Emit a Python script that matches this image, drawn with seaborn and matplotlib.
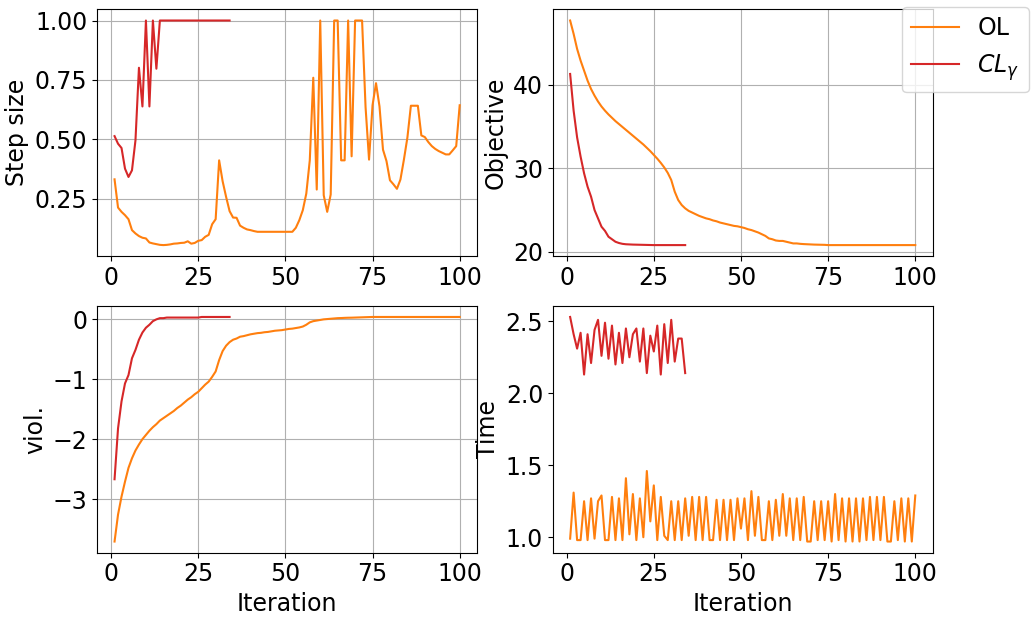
import numpy as np
import matplotlib
matplotlib.use("Agg")
import matplotlib.pyplot as plt
import seaborn as sns

# ====================
# DONNEES
# ====================

iter_ol = list(range(1, 101))
iter_cl = list(range(1, 35))

step_ol = [0.331, 0.212, 0.194, 0.18, 0.163, 0.117, 0.103, 0.092, 0.085, 0.082,
           0.065, 0.061, 0.058, 0.055, 0.054, 0.055, 0.057, 0.060, 0.061, 0.063,
           0.064, 0.070, 0.060, 0.063, 0.072, 0.075, 0.089, 0.097, 0.142, 0.163,
           0.411, 0.323, 0.257, 0.197, 0.17, 0.169, 0.136, 0.127, 0.12, 0.117,
           0.113, 0.11, 0.11, 0.11, 0.11, 0.11, 0.11, 0.11, 0.11, 0.11,
           0.11, 0.11, 0.127, 0.159, 0.201, 0.271, 0.411, 0.759, 0.288, 1.0,
           0.264, 0.194, 0.267, 1.0, 1.0, 0.411, 0.411, 1.0, 0.428, 1.0,
           1.0, 1.0, 0.635, 0.414, 0.643, 0.736, 0.638, 0.456, 0.408, 0.327,
           0.31, 0.291, 0.33, 0.414, 0.507, 0.641, 0.641, 0.641, 0.516, 0.509,
           0.488, 0.471, 0.459, 0.45, 0.443, 0.436, 0.436, 0.453, 0.471, 0.643]
step_cl = [0.513, 0.481, 0.463, 0.376, 0.341, 0.369, 0.495, 0.801, 0.638, 1.0,
           0.638, 1.0, 0.797, 1.0, 1.0, 1.0, 1.0, 1.0, 1.0, 1.0,
           1.0, 1.0, 1.0, 1.0, 1.0, 1.0, 1.0, 1.0, 1.0, 1.0,
           1.0, 1.0, 1.0, 1.0]

obj_ol = [47.7, 46.1, 44.3, 42.9, 41.7, 40.5, 39.5, 38.7, 38.0, 37.4,
          36.9, 36.45, 36.05, 35.65, 35.3, 34.95, 34.6, 34.25, 33.9, 33.55,
          33.2, 32.85, 32.45, 32.05, 31.6, 31.15, 30.65, 30.1, 29.45, 28.6,
          27.2, 26.2, 25.6, 25.2, 24.9, 24.7, 24.5, 24.3, 24.15, 24.0,
          23.9, 23.75, 23.65, 23.5, 23.4, 23.3, 23.2, 23.1, 23.05, 22.95,
          22.85, 22.7, 22.6, 22.45, 22.3, 22.1, 21.9, 21.6, 21.5, 21.35,
          21.3, 21.3, 21.2, 21.1, 21.0, 21.0, 20.95, 20.92, 20.9, 20.88,
          20.86, 20.85, 20.84, 20.83, 20.8, 20.8, 20.8, 20.8, 20.8, 20.8,
          20.8, 20.8, 20.8, 20.8, 20.8, 20.8, 20.8, 20.8, 20.8, 20.8,
          20.8, 20.8, 20.8, 20.8, 20.8, 20.8, 20.8, 20.8, 20.8, 20.8]
obj_cl = [41.3, 36.9, 33.7, 31.4, 29.4, 27.8, 26.6, 25.0, 24.0, 23.0,
          22.5, 21.8, 21.5, 21.2, 21.05, 20.95, 20.9, 20.88, 20.86, 20.85,
          20.84, 20.83, 20.82, 20.81, 20.8, 20.8, 20.8, 20.8, 20.8, 20.8,
          20.8, 20.8, 20.8, 20.8]

viol_ol = [-3.71, -3.26, -2.96, -2.71, -2.48, -2.32, -2.19, -2.09, -2.0, -1.93,
           -1.86, -1.80, -1.75, -1.69, -1.65, -1.61, -1.57, -1.53, -1.48, -1.44,
           -1.39, -1.34, -1.30, -1.25, -1.21, -1.15, -1.09, -1.04, -0.96, -0.87,
           -0.68, -0.53, -0.44, -0.38, -0.34, -0.32, -0.29, -0.28, -0.265, -0.25,
           -0.24, -0.23, -0.225, -0.215, -0.21, -0.2, -0.19, -0.185, -0.18, -0.17,
           -0.16, -0.155, -0.145, -0.135, -0.12, -0.09, -0.05, -0.03, -0.02, -0.01,
           0.0, 0.005, 0.01, 0.015, 0.02, 0.022, 0.025, 0.027, 0.028, 0.03,
           0.032, 0.034, 0.036, 0.038, 0.04, 0.04, 0.04, 0.04, 0.04, 0.04,
           0.04, 0.04, 0.04, 0.04, 0.04, 0.04, 0.04, 0.04, 0.04, 0.04,
           0.04, 0.04, 0.04, 0.04, 0.04, 0.04, 0.04, 0.04, 0.04, 0.04]
viol_cl = [-2.67, -1.82, -1.37, -1.07, -0.93, -0.65, -0.51, -0.34, -0.22, -0.14,
           -0.09, -0.03, 0.0, 0.02, 0.02, 0.03, 0.03, 0.03, 0.03, 0.03,
           0.03, 0.03, 0.03, 0.03, 0.03, 0.04, 0.04, 0.04, 0.04, 0.04,
           0.04, 0.04, 0.04, 0.04]

time_ol = [0.99, 1.31, 0.98, 0.98, 1.25, 0.98, 1.27, 0.99, 1.25, 1.29,
           0.98, 0.98, 1.28, 0.98, 1.27, 0.98, 1.41, 1.02, 1.30, 0.98,
           1.27, 1.00, 1.46, 1.11, 1.36, 0.98, 1.28, 1.01, 0.98, 1.25,
           0.98, 1.25, 0.98, 1.27, 1.01, 1.28, 0.98, 1.28, 0.98, 1.28,
           0.98, 0.98, 1.26, 0.98, 1.26, 0.98, 1.26, 0.98, 1.27, 1.06,
           1.27, 0.98, 1.32, 1.01, 1.28, 0.98, 0.98, 1.25, 0.98, 1.26,
           1.01, 1.30, 1.01, 1.27, 0.98, 1.27, 0.98, 1.28, 0.97, 0.97,
           1.25, 0.98, 1.25, 0.98, 1.25, 0.97, 1.30, 0.98, 1.27, 0.97,
           1.27, 0.97, 1.27, 0.97, 1.27, 0.98, 1.28, 0.98, 1.28, 0.98,
           1.28, 0.97, 0.97, 1.25, 0.98, 1.27, 0.97, 1.27, 0.97, 1.29]
time_cl = [2.53, 2.41, 2.31, 2.42, 2.13, 2.41, 2.21, 2.44, 2.51, 2.26,
           2.49, 2.24, 2.47, 2.20, 2.42, 2.21, 2.45, 2.25, 2.41, 2.45,
           2.22, 2.45, 2.14, 2.40, 2.29, 2.47, 2.13, 2.48, 2.21, 2.51,
           2.22, 2.38, 2.38, 2.14]

# ====================
# GRAPHIQUE
# ====================

plt.rcParams.update({'font.size': 17, 'font.family': ['DejaVu Sans']})

COUL_OL = '#ff7f0e'
COUL_CL = '#d62728'

fig, axes = plt.subplots(2, 2, figsize=(10.35, 6.19), dpi=100)
fig.subplots_adjust(left=0.094, right=0.901, top=0.985, bottom=0.107,
                    wspace=0.2, hspace=0.2)

panneaux = [
    (axes[0, 0], step_ol, step_cl, "Step size", True),
    (axes[0, 1], obj_ol, obj_cl, "Objective", True),
    (axes[1, 0], viol_ol, viol_cl, "viol.", True),
    (axes[1, 1], time_ol, time_cl, "Time", False),
]

for ax, y_ol, y_cl, nom, grille in panneaux:
    sns.lineplot(x=iter_ol, y=y_ol, ax=ax, color=COUL_OL, linewidth=1.5, label="OL")
    sns.lineplot(x=iter_cl, y=y_cl, ax=ax, color=COUL_CL, linewidth=1.5, label=r"$CL_\gamma$")
    ax.set_ylabel(nom)
    ax.set_xticks([0, 25, 50, 75, 100])
    ax.legend().remove()
    if grille:
        ax.grid(True, color='#b0b0b0', linewidth=0.8)

axes[1, 0].set_xlabel("Iteration")
axes[1, 1].set_xlabel("Iteration")
axes[0, 0].set_yticks([0.25, 0.50, 0.75, 1.00])
axes[1, 0].set_yticks([-3, -2, -1, 0])

poignees, etiquettes = axes[0, 0].get_legend_handles_labels()
fig.legend(poignees, etiquettes, loc='upper right',
           bbox_to_anchor=(1029 / 1035, 1 - 7 / 619), borderaxespad=0)

fig.savefig("out.png", dpi=100)
